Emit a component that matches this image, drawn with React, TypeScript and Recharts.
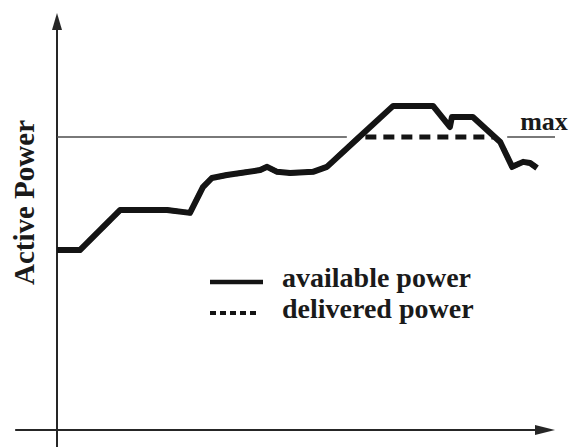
import React from 'react';
import { LineChart, Line, XAxis, YAxis, ReferenceLine, Legend } from 'recharts';

// time (arbitrary units, 0..100) and active power (% of max)
const timeSteps = [0, 4.6, 12.7, 22.1, 26.7, 29.3, 31.1, 34.1, 40.8, 42.2, 44.2, 46.8, 51.4, 54.2, 60.7, 67.5, 75.5, 78.9, 79.3, 83.5, 87.9, 89.0, 91.4, 93.6, 95.0, 96.4];
const availablePower = [61.4, 61.4, 75.1, 75.1, 74.1, 82.9, 86.0, 87.0, 88.7, 89.8, 88.1, 87.7, 88.1, 89.8, 100, 110.6, 110.6, 103.4, 106.8, 106.8, 100, 98.3, 89.8, 91.5, 91.1, 89.4];
const deliveredPower = [61.4, 61.4, 75.1, 75.1, 74.1, 82.9, 86.0, 87.0, 88.7, 89.8, 88.1, 87.7, 88.1, 89.8, 100, 100, 100, 100, 100, 100, 100, 98.3, 89.8, 91.5, 91.1, 89.4];
const maxPower = 100;
const maxLineLeft = [0, 58.2];
const maxLineRight = [90.4, 100];
const xDomain = [0, 100];
const yDomain = [0, 142.3];
const xAxisStart = -8.4;
const yAxisStart = -5.8;
const legendLabels = ['available power', 'delivered power'];
const yLabel = 'Active Power';
const maxLabel = 'max';

const data = timeSteps.map((t, i) => ({ t, available: availablePower[i], delivered: deliveredPower[i] }));

const FONT = '"Liberation Serif", "Times New Roman", serif';
const AXIS = '#262626';
const CURVE = '#141414';
const MAXC = '#4d4d4d';

const UpArrow = (p: any) => {
  const x = p.x1;
  const top = Math.min(p.y1, p.y2);
  const bot = Math.max(p.y1, p.y2);
  return (
    <g>
      <line x1={x} y1={bot} x2={x} y2={top + 12} stroke={AXIS} strokeWidth={2} />
      <polygon points={`${x},${top} ${x - 5},${top + 17} ${x + 5},${top + 17}`} fill={AXIS} />
    </g>
  );
};

const RightArrow = (p: any) => {
  const y = p.y1;
  const left = Math.min(p.x1, p.x2);
  const right = Math.max(p.x1, p.x2);
  return (
    <g>
      <line x1={left} y1={y} x2={right - 14} y2={y} stroke={AXIS} strokeWidth={2} />
      <polygon points={`${right},${y} ${right - 20},${y - 5} ${right - 20},${y + 5}`} fill={AXIS} />
    </g>
  );
};

const LegendBox = () => (
  <svg width={300} height={70} style={{ display: 'block' }}>
    <line x1={10} y1={24} x2={63} y2={24} stroke={CURVE} strokeWidth={4.5} />
    <text x={82} y={29} fontFamily={FONT} fontWeight="bold" fontSize={28} fill="#1a1a1a">{legendLabels[0]}</text>
    <line x1={10} y1={55} x2={58} y2={55} stroke={CURVE} strokeWidth={4} strokeDasharray="6 4" />
    <text x={82} y={60} fontFamily={FONT} fontWeight="bold" fontSize={28} fill="#1a1a1a">{legendLabels[1]}</text>
  </svg>
);

export default function App() {
  return (
    <div style={{ position: 'absolute', left: 0, top: 0 }}>
      <LineChart width={570} height={447} data={data} margin={{ top: 13, right: 15, bottom: 17, left: 0 }}>
        <XAxis dataKey="t" type="number" domain={xDomain} allowDataOverflow hide />
        <YAxis
          type="number"
          domain={yDomain}
          allowDataOverflow
          width={57}
          axisLine={false}
          tickLine={false}
          tick={false}
          label={(props: any) => {
            const vb = props.viewBox || { x: 0, y: 13, width: 57, height: 417 };
            const x = vb.x + 34;
            const y = vb.y + vb.height / 2 - 19;
            return (
              <text x={x} y={y} transform={`rotate(-90, ${x}, ${y})`} textAnchor="middle" fontFamily={FONT} fontWeight="bold" fontSize={29} fill="#1a1a1a">
                {yLabel}
              </text>
            );
          }}
        />
        <ReferenceLine
          segment={[{ x: xAxisStart, y: 0 }, { x: xDomain[1], y: 0 }]}
          ifOverflow="visible"
          shape={RightArrow}
        />
        <ReferenceLine
          segment={[{ x: 0, y: yAxisStart }, { x: 0, y: yDomain[1] }]}
          ifOverflow="visible"
          shape={UpArrow}
        />
        <ReferenceLine
          segment={[{ x: maxLineLeft[0], y: maxPower }, { x: maxLineLeft[1], y: maxPower }]}
          ifOverflow="visible"
          stroke={MAXC}
          strokeWidth={1.6}
        />
        <ReferenceLine
          segment={[{ x: maxLineRight[0], y: maxPower }, { x: maxLineRight[1], y: maxPower }]}
          ifOverflow="visible"
          stroke={MAXC}
          strokeWidth={1.6}
          label={(props: any) => {
            const vb = props.viewBox || { x: 507, y: 137, width: 48, height: 0 };
            return (
              <text x={vb.x + 13} y={vb.y - 7} fontFamily={FONT} fontWeight="bold" fontSize={26} fill="#1a1a1a">
                {maxLabel}
              </text>
            );
          }}
        />
        <Line
          dataKey="delivered"
          name="delivered power"
          type="linear"
          stroke={CURVE}
          strokeWidth={5}
          strokeDasharray="11 7"
          dot={false}
          activeDot={false}
          isAnimationActive={false}
        />
        <Line
          dataKey="available"
          name="available power"
          type="linear"
          stroke={CURVE}
          strokeWidth={6}
          strokeLinejoin="round"
          dot={false}
          activeDot={false}
          isAnimationActive={false}
        />
        <Legend
          layout="horizontal"
          verticalAlign="middle"
          align="center"
          content={() => <LegendBox />}
          wrapperStyle={{ left: 200, top: 258, width: 300, height: 70 }}
        />
      </LineChart>
    </div>
  );
}
